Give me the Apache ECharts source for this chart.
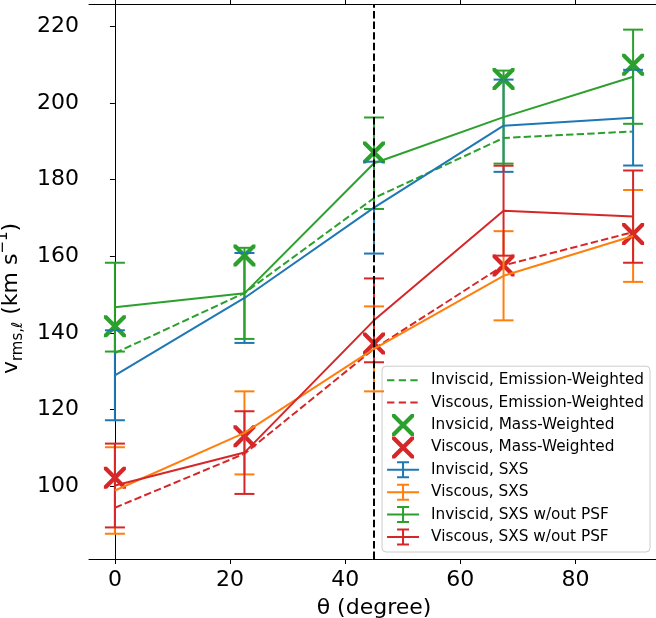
<!DOCTYPE html>
<html>
<head>
<meta charset="utf-8">
<script src="https://cdn.jsdelivr.net/npm/echarts@6/dist/echarts.min.js"></script>
<style>html,body{margin:0;padding:0;background:#fff;}#c{width:656px;height:618px;}</style>
</head>
<body>
<div id="c"></div>
<script>
// ---- data ----
const theta = [0, 22.5, 45, 67.5, 90];
const xTicks = [0, 20, 40, 60, 80];
const yTicks = [100, 120, 140, 160, 180, 200, 220];

const invEmission = [134.7, 150.4, 175.2, 190.9, 192.6];
const visEmission = [94.3, 108.4, 135.8, 157.6, 166.3];
const invMass = [141.7, 160.2, 187.1, 206.3, 210.0];
const visMass = [102.1, 113.0, 137.2, 157.6, 165.8];

const invSXS = [128.9, 149.1, 172.7, 194.1, 196.2];
const invSXSErr = [11.75, 11.75, 12.0, 12.05, 12.5];
const visSXS = [98.8, 113.85, 135.8, 154.9, 165.3];
const visSXSErr = [11.3, 10.85, 11.1, 11.65, 12.0];
const invNoPSF = [146.7, 150.3, 184.3, 196.35, 206.9];
const invNoPSFErr = [11.6, 11.9, 11.95, 12.15, 12.3];
const visNoPSF = [100.1, 108.7, 143.25, 171.9, 170.35];
const visNoPSFErr = [10.95, 10.8, 10.95, 11.75, 12.05];

const viewAngle = 45;

// ---- styling ----
const C = {blue: '#1f77b4', orange: '#ff7f0e', green: '#2ca02c', red: '#d62728'};
const FONT = 'DejaVu Sans';
const DASH = [7.4, 3.2];

const X_PATH = 'path://M0 0 L3 0 L22 19 L22 22 L19 22 L0 3 Z M22 0 L22 3 L3 22 L0 22 L0 19 L19 0 Z';
const CORNERS = 'M0 0 L0.01 0 L0 0.01 Z M32 22 L31.99 22 L32 21.99 Z';
const ICON_DASH = 'path://' + CORNERS + ' M0 10 L7.3 10 L7.3 12 L0 12 Z M11.7 10 L19 10 L19 12 L11.7 12 Z M23.3 10 L30.6 10 L30.6 12 L23.3 12 Z';
const ICON_X = 'path://' + CORNERS + ' M5 0 L8 0 L27 19 L27 22 L24 22 L5 3 Z M27 0 L27 3 L8 22 L5 22 L5 19 L24 0 Z';
const ICON_ERR = 'path://' + CORNERS + ' M0 10 L32 10 L32 12 L0 12 Z M15 3 L17 3 L17 19 L15 19 Z M10 2.5 L22 2.5 L22 4.5 L10 4.5 Z M10 17.5 L22 17.5 L22 19.5 L10 19.5 Z';

function pairs(ys) { return theta.map((t, i) => [t, ys[i]]); }
function errData(c, e) { return theta.map((t, i) => [t, c[i] - e[i], c[i] + e[i]]); }

function errRender(color) {
  return function (params, api) {
    const x = api.value(0);
    const pLo = api.coord([x, api.value(1)]);
    const pHi = api.coord([x, api.value(2)]);
    const hw = 10;
    const style = {stroke: color, lineWidth: 2, fill: null};
    return {
      type: 'group',
      children: [
        {type: 'line', shape: {x1: pLo[0], y1: pLo[1], x2: pHi[0], y2: pHi[1]}, style: style},
        {type: 'line', shape: {x1: pLo[0] - hw, y1: pLo[1], x2: pLo[0] + hw, y2: pLo[1]}, style: style},
        {type: 'line', shape: {x1: pHi[0] - hw, y1: pHi[1], x2: pHi[0] + hw, y2: pHi[1]}, style: style}
      ]
    };
  };
}

function dashedSeries(name, ys, color) {
  return {
    name: name, type: 'line', data: pairs(ys), symbol: 'none', z: 2,
    lineStyle: {color: color, width: 2, type: DASH},
    itemStyle: {color: color}
  };
}
function massSeries(name, ys, color) {
  return {
    name: name, type: 'scatter', data: pairs(ys), symbol: X_PATH, symbolSize: 22, z: 3,
    itemStyle: {color: color, opacity: 1, borderWidth: 0}
  };
}
function sxsSeries(name, c, e, color) {
  return [
    {
      name: name, type: 'line', data: pairs(c), symbol: 'none', z: 4,
      lineStyle: {color: color, width: 2}, itemStyle: {color: color}
    },
    {
      name: name, type: 'custom', data: errData(c, e), z: 4,
      encode: {x: 0, y: [1, 2]},
      renderItem: errRender(color),
      itemStyle: {color: color}
    }
  ];
}

const series = [
  dashedSeries('Inviscid, Emission-Weighted', invEmission, C.green),
  dashedSeries('Viscous, Emission-Weighted', visEmission, C.red),
  massSeries('Invsicid, Mass-Weighted', invMass, C.green),
  massSeries('Viscous, Mass-Weighted', visMass, C.red),
  ...sxsSeries('Inviscid, SXS', invSXS, invSXSErr, C.blue),
  ...sxsSeries('Viscous, SXS', visSXS, visSXSErr, C.orange),
  ...sxsSeries('Inviscid, SXS w/out PSF', invNoPSF, invNoPSFErr, C.green),
  ...sxsSeries('Viscous, SXS w/out PSF', visNoPSF, visNoPSFErr, C.red)
];
series[series.length - 1].markLine = {
  silent: true, symbol: 'none', label: {show: false}, animation: false,
  lineStyle: {color: '#000', width: 2, type: DASH},
  data: [{xAxis: viewAngle}]
};

const legendItems = [
  ['Inviscid, Emission-Weighted', ICON_DASH, C.green],
  ['Viscous, Emission-Weighted', ICON_DASH, C.red],
  ['Invsicid, Mass-Weighted', ICON_X, C.green],
  ['Viscous, Mass-Weighted', ICON_X, C.red],
  ['Inviscid, SXS', ICON_ERR, C.blue],
  ['Viscous, SXS', ICON_ERR, C.orange],
  ['Inviscid, SXS w/out PSF', ICON_ERR, C.green],
  ['Viscous, SXS w/out PSF', ICON_ERR, C.red]
].map(([n, icon, col]) => ({name: n, icon: icon, itemStyle: {color: col, borderWidth: 0}}));

const axisCommon = {
  axisLine: {show: true, lineStyle: {color: '#000', width: 1}},
  axisTick: {show: true, length: 5, lineStyle: {color: '#000', width: 1}},
  splitLine: {show: false}
};

const option = {
  animation: false,
  backgroundColor: '#fff',
  grid: {left: 89, top: 4, width: 570, height: 555, containLabel: false, outerBoundsMode: 'none'},
  xAxis: [
    Object.assign({}, axisCommon, {
      type: 'value', min: -4.5, max: 94.5, position: 'bottom',
      axisTick: Object.assign({}, axisCommon.axisTick, {customValues: xTicks}),
      axisLabel: {customValues: xTicks, fontFamily: FONT, fontSize: 22, color: '#000', margin: 10},
      name: 'θ (degree)', nameLocation: 'middle', nameGap: 38,
      nameTextStyle: {fontFamily: FONT, fontSize: 22, color: '#000'}
    }),
    Object.assign({}, axisCommon, {
      type: 'value', min: -4.5, max: 94.5, position: 'top',
      axisTick: Object.assign({}, axisCommon.axisTick, {customValues: xTicks}),
      axisLabel: {show: false}
    })
  ],
  yAxis: [
    Object.assign({}, axisCommon, {
      type: 'value', min: 80.9, max: 225.9,
      axisTick: Object.assign({}, axisCommon.axisTick, {customValues: yTicks}),
      axisLabel: {customValues: yTicks, fontFamily: FONT, fontSize: 22, color: '#000', margin: 10},
      name: '{m|v}{sub|rms,ℓ}{m| (km s}{sup|−1}{m|)}',
      nameLocation: 'middle', nameGap: 37, nameRotate: 90,
      nameTextStyle: {
        fontFamily: FONT, fontSize: 22, color: '#000', padding: [0, 34, 0, 0],
        rich: {
          m: {fontFamily: FONT, fontSize: 22, color: '#000', lineHeight: 30, verticalAlign: 'middle'},
          sub: {fontFamily: FONT, fontSize: 15, color: '#000', lineHeight: 14, verticalAlign: 'bottom'},
          sup: {fontFamily: FONT, fontSize: 15, color: '#000', lineHeight: 14, verticalAlign: 'top'}
        }
      }
    })
  ],
  legend: {
    orient: 'vertical', right: 6, bottom: 66,
    backgroundColor: 'rgba(255,255,255,0.8)', borderColor: '#cccccc', borderWidth: 1, borderRadius: 4,
    padding: [3, 6, 4, 5],
    itemWidth: 32, itemHeight: 22, itemGap: 0.4,
    itemStyle: {borderWidth: 0},
    textStyle: {fontFamily: FONT, fontSize: 15.3, color: '#000', padding: [0, 0, 0, 7]},
    selectedMode: false,
    data: legendItems
  },
  series: series
};

const chart = echarts.init(document.getElementById('c'), null, {renderer: 'canvas'});
chart.setOption(option);
</script>
</body>
</html>
